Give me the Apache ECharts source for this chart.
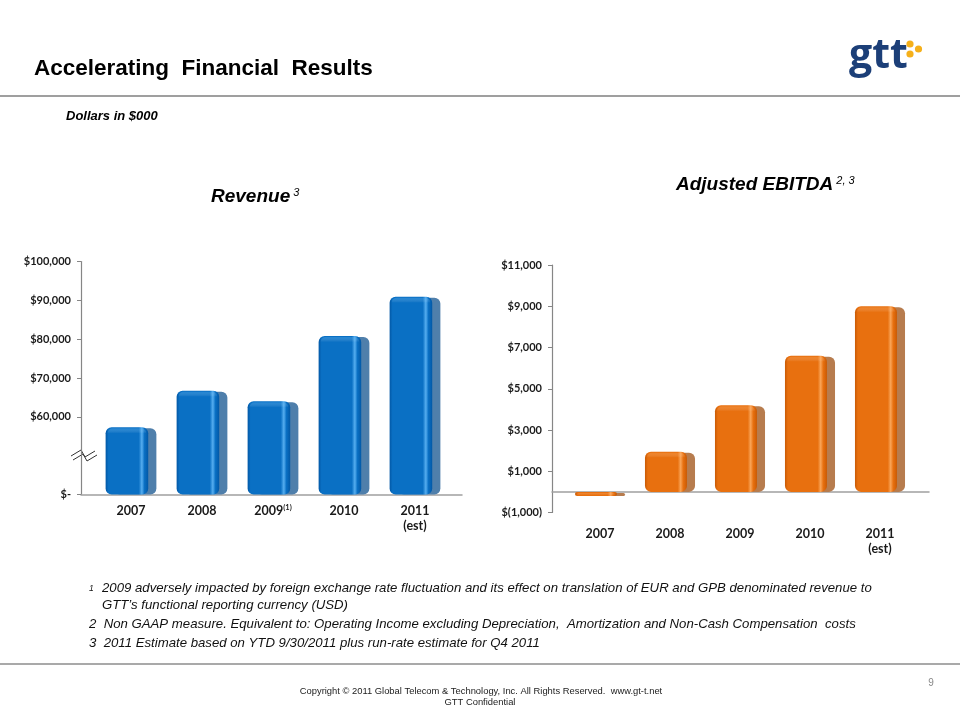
<!DOCTYPE html>
<html>
<head>
<meta charset="utf-8">
<script src="https://cdn.jsdelivr.net/npm/echarts/dist/echarts.min.js"></script>
<style>
html,body{margin:0;padding:0;background:#fff;}
#c{width:960px;height:720px;}
</style>
</head>
<body>
<div id="c"></div>
<script>
// ---- Data ----
var revCategories = ['2007', '2008', '2009{sup|(1)}', '2010', '2011\n(est)'];
var revValues = [57300, 66700, 64000, 80800, 90900];
var revTicks = [40000, 60000, 70000, 80000, 90000, 100000];
var revTickLabels = ['$-', '$60,000', '$70,000', '$80,000', '$90,000', '$100,000'];
var revAxisMin = 40000, revAxisMax = 100000;

var ebCategories = ['2007', '2008', '2009', '2010', '2011\n(est)'];
var ebValues = [-200, 1950, 4200, 6600, 9000];
var ebTicks = [-1000, 1000, 3000, 5000, 7000, 9000, 11000];
var ebTickLabels = ['$(1,000)', '$1,000', '$3,000', '$5,000', '$7,000', '$9,000', '$11,000'];
var ebAxisMin = -1000, ebAxisMax = 11000;

// ---- Chart ----
var chart = echarts.init(document.getElementById('c'), null, {renderer: 'canvas'});

function tickLabel(ticks, labels) {
  return function (v) {
    var i = ticks.indexOf(v);
    return i >= 0 ? labels[i] : '';
  };
}

function bar3D(c, base) {
  return function (params, api) {
    var idx = api.value(0), val = api.value(1);
    var p1 = api.coord([idx, val]);
    var p0 = api.coord([idx, base]);
    var w = api.size([1, 0])[0];
    var fw = w * 0.6, off = w * 0.115;
    var x0 = p1[0] - (fw + off) / 2;
    var y0 = Math.min(p1[1], p0[1]);
    var h = Math.abs(p0[1] - p1[1]);
    var r = Math.min(6, h / 2);
    var grad = new echarts.graphic.LinearGradient(0, 0, 1, 0, [
      {offset: 0, color: c.dark},
      {offset: 0.07, color: c.main},
      {offset: 0.78, color: c.main},
      {offset: 0.85, color: c.light},
      {offset: 0.91, color: c.main},
      {offset: 1, color: c.dark}
    ]);
    var topGrad = new echarts.graphic.LinearGradient(0, 0, 0, 1, [
      {offset: 0, color: c.light},
      {offset: 1, color: 'rgba(255,255,255,0)'}
    ]);
    return {
      type: 'group',
      children: [
        {type: 'rect', shape: {x: x0 + off, y: y0 + 1, width: fw, height: Math.max(h - 1, 0.5), r: r}, style: {fill: c.shadow}},
        {type: 'rect', shape: {x: x0, y: y0, width: fw, height: h, r: r}, style: {fill: grad}},
        {type: 'rect', shape: {x: x0 + 2, y: y0 + 1, width: fw - 4, height: Math.min(5, h / 2), r: [r, r, 0, 0]}, style: {fill: topGrad, opacity: 0.35}}
      ]
    };
  };
}

var blue = {main: '#0a70c4', dark: '#0258a6', light: '#56aef0', shadow: '#4f7fab'};
var orange = {main: '#e8700f', dark: '#c85a05', light: '#f9a457', shadow: '#b77c4e'};

var axisLabelStyle = {fontFamily: 'Lato', fontWeight: 'bold', color: '#1a1a1a'};
var noteFont = 'italic 13.2px "Liberation Sans", Arial';

var option = {
  animation: false,
  grid: [
    {left: 95.5, width: 355, top: 261.5, height: 233},
    {left: 81, width: 381, top: 261.5, height: 233},
    {left: 565, width: 350, top: 265, height: 247.5},
    {left: 552, width: 377, top: 265, height: 247.5}
  ],
  xAxis: [
    {gridIndex: 0, type: 'category', data: revCategories,
      axisLine: {show: false}, axisTick: {show: false},
      axisLabel: Object.assign({fontSize: 12.5, margin: 9, lineHeight: 15, interval: 0,
        rich: {sup: {fontSize: 7.5, fontFamily: 'Lato', fontWeight: 'bold', color: '#1a1a1a', padding: [0, 0, 7, 0]}}}, axisLabelStyle)},
    {gridIndex: 1, type: 'category', data: [''],
      axisLine: {show: true, lineStyle: {color: '#a0a0a0', width: 1.5}}, axisTick: {show: false}, axisLabel: {show: false}},
    {gridIndex: 2, type: 'category', data: ebCategories,
      axisLine: {show: false}, axisTick: {show: false},
      axisLabel: Object.assign({fontSize: 12.5, margin: 14, lineHeight: 15, interval: 0}, axisLabelStyle)},
    {gridIndex: 3, type: 'category', data: [''],
      axisLine: {show: true, onZero: true, lineStyle: {color: '#a0a0a0', width: 1.5}}, axisTick: {show: false}, axisLabel: {show: false}}
  ],
  yAxis: [
    {gridIndex: 0, type: 'value', min: revAxisMin, max: revAxisMax, interval: 10000, show: false},
    {gridIndex: 1, type: 'value', min: revAxisMin, max: revAxisMax, interval: 10000,
      splitLine: {show: false},
      axisLine: {show: true, lineStyle: {color: '#868686', width: 1.2}},
      axisTick: {show: true, length: 4, inside: false, customValues: revTicks, lineStyle: {color: '#868686'}},
      axisLabel: Object.assign({fontSize: 11, margin: 10, customValues: revTicks, formatter: tickLabel(revTicks, revTickLabels)}, axisLabelStyle)},
    {gridIndex: 2, type: 'value', min: ebAxisMin, max: ebAxisMax, interval: 1000, show: false},
    {gridIndex: 3, type: 'value', min: ebAxisMin, max: ebAxisMax, interval: 1000,
      splitLine: {show: false},
      axisLine: {show: true, onZero: false, lineStyle: {color: '#868686', width: 1.2}},
      axisTick: {show: true, length: 4, customValues: ebTicks, lineStyle: {color: '#868686'}},
      axisLabel: Object.assign({fontSize: 11, margin: 10, customValues: ebTicks, formatter: tickLabel(ebTicks, ebTickLabels)}, axisLabelStyle)}
  ],
  series: [
    {type: 'custom', xAxisIndex: 0, yAxisIndex: 0, renderItem: bar3D(blue, revAxisMin),
      data: revValues.map(function (v, i) { return [i, v]; }), encode: {x: 0, y: 1}, clip: false},
    {type: 'custom', xAxisIndex: 2, yAxisIndex: 2, renderItem: bar3D(orange, 0),
      data: ebValues.map(function (v, i) { return [i, v]; }), encode: {x: 0, y: 1}, clip: false}
  ],
  graphic: [
    {type: 'text', left: 34, top: 57, style: {text: 'Accelerating  Financial  Results', font: 'bold 22.5px "Liberation Sans", Arial', fill: '#000'}},
    {type: 'line', shape: {x1: 0, y1: 96, x2: 960, y2: 96}, style: {stroke: '#7f7f7f', lineWidth: 1.5}},
    {type: 'line', shape: {x1: 0, y1: 664, x2: 960, y2: 664}, style: {stroke: '#8c8c8c', lineWidth: 1.5}},
    // logo
    {type: 'text', left: 849, top: 36, style: {text: 'gtt', font: 'bold 41px "Open Sans", "Liberation Sans"', fill: '#1c3f78'}},
    {type: 'circle', shape: {cx: 910, cy: 44, r: 3.6}, style: {fill: '#f5b01a'}},
    {type: 'circle', shape: {cx: 918.5, cy: 49, r: 3.6}, style: {fill: '#f5b01a'}},
    {type: 'circle', shape: {cx: 910, cy: 54, r: 3.6}, style: {fill: '#f5b01a'}},
    {type: 'text', left: 66, top: 110, style: {text: 'Dollars in $000', font: 'italic bold 13px "Liberation Sans", Arial', fill: '#000'}},
    {type: 'text', left: 211, top: 187, style: {
      text: '{a|Revenue}{s| 3}',
      rich: {
        a: {fontFamily: 'Liberation Sans', fontWeight: 'bold', fontStyle: 'italic', fontSize: 19, fill: '#000'},
        s: {fontFamily: 'Liberation Sans', fontStyle: 'italic', fontSize: 11, fill: '#000', padding: [0, 0, 9, 0]}
      }}},
    {type: 'text', left: 676, top: 175, style: {
      text: '{a|Adjusted EBITDA}{s| 2, 3}',
      rich: {
        a: {fontFamily: 'Liberation Sans', fontWeight: 'bold', fontStyle: 'italic', fontSize: 19, fill: '#000'},
        s: {fontFamily: 'Liberation Sans', fontStyle: 'italic', fontSize: 11, fill: '#000', padding: [0, 0, 9, 0]}
      }}},
    // axis break mark
    {type: 'polygon', shape: {points: [[71, 456], [81, 450], [85, 457], [95, 451], [97, 455], [87, 461], [83, 454], [73, 460]]}, style: {fill: '#fff', stroke: 'none'}},
    {type: 'polyline', shape: {points: [[71, 456], [81, 450], [85, 457], [95, 451]]}, style: {stroke: '#333', lineWidth: 1, fill: 'none'}},
    {type: 'polyline', shape: {points: [[73, 460], [83, 454], [87, 461], [97, 455]]}, style: {stroke: '#333', lineWidth: 1, fill: 'none'}},
    // footnotes
    {type: 'text', left: 89, top: 584, style: {text: '1', font: 'italic 8.5px "Liberation Sans", Arial', fill: '#111'}},
    {type: 'text', left: 102, top: 582, style: {text: '2009 adversely impacted by foreign exchange rate fluctuation and its effect on translation of EUR and GPB denominated revenue to', font: noteFont, fill: '#111'}},
    {type: 'text', left: 102, top: 599, style: {text: 'GTT\u2019s functional reporting currency (USD)', font: noteFont, fill: '#111'}},
    {type: 'text', left: 89, top: 618, style: {text: '2  Non GAAP measure. Equivalent to: Operating Income excluding Depreciation,  Amortization and Non-Cash Compensation  costs', font: noteFont, fill: '#111'}},
    {type: 'text', left: 89, top: 637, style: {text: '3  2011 Estimate based on YTD 9/30/2011 plus run-rate estimate for Q4 2011', font: noteFont, fill: '#111'}},
    // footer
    {type: 'text', x: 481, y: 691, style: {text: 'Copyright \u00a9 2011 Global Telecom & Technology, Inc. All Rights Reserved.  www.gt-t.net', font: '9.4px "Liberation Sans", Arial', fill: '#222', align: 'center', verticalAlign: 'middle'}},
    {type: 'text', x: 480, y: 702, style: {text: 'GTT Confidential', font: '9.4px "Liberation Sans", Arial', fill: '#222', align: 'center', verticalAlign: 'middle'}},
    {type: 'text', x: 931, y: 683, style: {text: '9', font: '10px "Liberation Sans", Arial', fill: '#888', align: 'center', verticalAlign: 'middle'}}
  ]
};
chart.setOption(option);
</script>
</body>
</html>
